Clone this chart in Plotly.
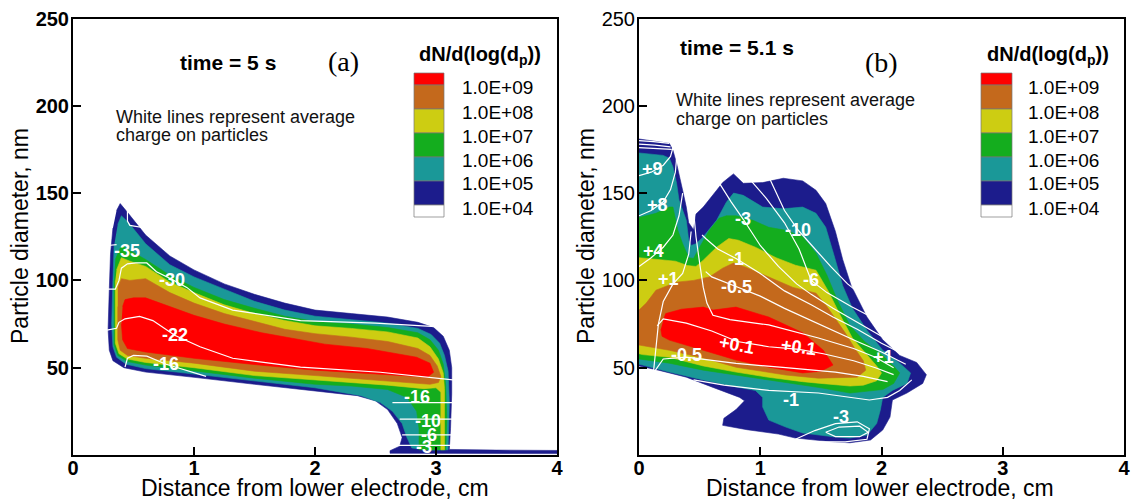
import plotly.graph_objects as go

FIG_W, FIG_H = 1132, 501
FONT = "Liberation Sans"
SERIF = "Liberation Serif"

# ---------------- legend levels ----------------
LEVEL_LABELS = ["1.0E+09", "1.0E+08", "1.0E+07", "1.0E+06", "1.0E+05", "1.0E+04"]
# legend boxes top -> bottom : >1e9, 1e8-1e9, 1e7-1e8, 1e6-1e7, 1e5-1e6, 1e4-1e5, <1e4
BAND_COLORS = ["#ff0000", "#c4691c", "#cdcd12", "#14ad1e", "#1a9898", "#1c1c8c", "#ffffff"]

# ---------------- panel (a): time = 5 s ----------------
A_NAVY_X = [0.36, 0.39, 0.45, 0.60, 0.80, 1.00, 1.25, 1.50, 1.75, 2.00, 2.30, 2.60, 2.85, 2.98, 3.06, 3.11, 3.13, 3.13, 3.12, 3.11, 3.50, 4.00, 4.00, 3.00, 2.62, 2.62, 2.70, 2.72, 2.68, 2.60, 2.50, 2.35, 2.00, 1.50, 1.00, 0.60, 0.42, 0.33, 0.30, 0.29, 0.30, 0.31, 0.33]
A_NAVY_Y = [140, 144, 139, 126, 114, 106, 98, 92, 87, 83, 81, 79, 76, 73, 68, 60, 50, 35, 15, 3.2, 2.8, 2.6, 0.8, 0.8, 1.0, 2.5, 5, 10, 18, 26, 31, 34, 36.5, 40.5, 44.5, 47.5, 50, 54, 60, 72, 95, 115, 130]
A_TEAL_X = [0.37, 0.40, 0.46, 0.60, 0.80, 1.00, 1.25, 1.50, 1.75, 2.00, 2.30, 2.60, 2.85, 2.96, 3.03, 3.07, 3.10, 3.11, 3.10, 2.95, 2.80, 2.76, 2.72, 2.64, 2.54, 2.38, 2.00, 1.50, 1.00, 0.60, 0.44, 0.36, 0.33, 0.32, 0.33, 0.34]
A_TEAL_Y = [132, 137, 133, 121, 109, 102, 95, 88, 83, 79.5, 77.5, 75.5, 72.5, 69, 64, 57, 48, 30, 3, 2.8, 4, 10, 18, 25, 30, 34, 38.5, 42.5, 46.5, 49.5, 52, 56, 62, 75, 100, 120]
A_GREEN_X = [0.35, 0.40, 0.47, 0.60, 0.80, 1.00, 1.25, 1.50, 1.75, 2.00, 2.30, 2.60, 2.85, 2.95, 3.02, 3.06, 3.08, 3.09, 3.08, 2.86, 2.86, 2.84, 2.76, 2.60, 2.30, 2.00, 1.50, 1.00, 0.60, 0.45, 0.37, 0.34, 0.34, 0.34]
A_GREEN_Y = [112, 120, 117, 112, 103, 96, 89, 84, 79.5, 76.5, 75, 73, 70, 66, 60, 52, 40, 20, 3, 3, 15, 25, 33, 37.5, 39.5, 40.5, 44, 48, 51.5, 53.5, 57, 63, 80, 100]
A_YELLOW_X = [0.36, 0.40, 0.47, 0.60, 0.80, 1.00, 1.25, 1.50, 1.75, 2.00, 2.30, 2.60, 2.85, 2.95, 3.02, 3.06, 3.07, 3.07, 3.04, 3.04, 3.00, 2.90, 2.60, 2.30, 2.00, 1.50, 1.00, 0.60, 0.45, 0.38, 0.35, 0.35, 0.35]
A_YELLOW_Y = [106, 113, 111, 108, 99, 93, 86, 81, 77, 74, 72.5, 70.5, 67, 62, 55, 47, 38, 3, 3, 36, 38.5, 38, 40, 41.5, 43, 45.5, 50, 53, 55, 58, 64, 80, 100]
A_ORANGE_X = [0.37, 0.40, 0.47, 0.60, 0.80, 1.00, 1.25, 1.50, 1.75, 2.00, 2.30, 2.60, 2.85, 2.95, 3.01, 3.04, 3.02, 2.95, 2.60, 2.30, 2.00, 1.50, 1.00, 0.60, 0.45, 0.39, 0.37, 0.37]
A_ORANGE_Y = [96, 101, 100, 101, 93, 87, 81, 76.5, 72, 69.5, 67.5, 65, 61, 57, 51, 45, 41.5, 40.5, 42.5, 44, 45.5, 48, 52.6, 55.4, 57, 60, 66, 85]
A_RED_X = [0.41, 0.43, 0.50, 0.60, 0.80, 1.00, 1.25, 1.56, 1.88, 2.08, 2.43, 2.84, 2.95, 2.98, 2.93, 2.60, 2.00, 1.56, 1.00, 0.60, 0.45, 0.41, 0.40]
A_RED_Y = [85, 89, 90, 90, 85, 80, 75, 70, 66, 63.5, 61, 56, 52.6, 47.4, 44.6, 46, 48.6, 51.4, 55.4, 59, 61, 66, 75]

# average-charge lines (a)
A_LINE_X = [
    [0.29, 0.36],
    [0.45, 0.45, 0.47, 0.52, 0.60, 0.70],
    [0.28, 0.35, 0.38, 0.40, 0.45, 0.52, 0.61, 0.69, 0.82, 0.94, 1.05, 1.32, 1.88, 2.50, 3.14],
    [0.28, 0.36, 0.38, 0.43, 0.55, 0.66, 0.84, 1.05, 1.32, 1.88, 2.54, 3.14],
    [0.43, 0.45, 0.50, 0.61, 0.77, 0.94, 1.10],
    [2.64, 3.14],
    [2.70, 3.14],
    [2.72, 3.14],
    [2.66, 3.14],
]
A_LINE_Y = [
    [120, 120.5],
    [143, 134, 131.5, 131, 130, 126],
    [95, 95, 100, 107, 109.5, 110, 110, 105, 100.5, 96, 90, 83, 77, 75.5, 73],
    [71.5, 72.6, 76, 78, 79.4, 77, 68.6, 62, 55.4, 50.3, 47.4, 43],
    [50.3, 55.4, 57, 56.6, 52, 48.6, 45],
    [30, 30],
    [20.5, 20.5],
    [11.5, 11.5],
    [5.5, 5.5],
]
A_LABEL_TEXT = ["-35", "-30", "-22", "-16", "-16", "-10", "-6", "-3"]
A_LABEL_X = [0.45, 0.82, 0.84, 0.77, 2.84, 2.93, 2.94, 2.90]
A_LABEL_Y = [117, 100.5, 68.6, 52, 33, 19.5, 11.4, 4.5]

# ---------------- panel (b): time = 5.1 s ----------------
B_NAVY_X = [0, 0.25, 0.28, 0.31, 0.36, 0.39, 0.41, 0.45, 0.47, 0.53, 0.64, 0.69, 0.76, 0.78, 0.86, 1.02, 1.19, 1.35, 1.46, 1.54, 1.62, 1.68, 1.75, 1.88, 2.01, 2.15, 2.29, 2.37, 2.34, 2.21, 2.09, 2.07, 2.01, 1.91, 1.74, 1.62, 1.29, 1.15, 0.89, 0.69, 0.70, 0.80, 0.87, 0.83, 0.60, 0.39, 0.16, 0.03, 0]
B_NAVY_Y = [181, 178.5, 174.5, 167, 151.6, 142, 133, 129, 138, 142, 151.6, 156, 160, 161, 155.6, 156, 158.5, 157, 151.6, 144, 128, 112, 97, 79, 66, 57, 53, 46, 41, 35.5, 31.5, 21.7, 14.3, 8.6, 7, 7.4, 9.7, 12, 14.5, 17, 21, 26, 31, 33, 39, 44.6, 48.6, 50.3, 51]
B_TEAL_X = [0, 0.20, 0.25, 0.28, 0.31, 0.33, 0.39, 0.41, 0.43, 0.47, 0.53, 0.64, 0.72, 0.78, 0.86, 1.02, 1.19, 1.35, 1.46, 1.54, 1.61, 1.68, 1.76, 1.88, 2.01, 2.15, 2.24, 2.21, 2.09, 2.01, 1.99, 1.96, 1.88, 1.74, 1.62, 1.35, 1.21, 1.07, 1.02, 1.02, 0.96, 0.80, 0.53, 0.25, 0.03, 0]
B_TEAL_Y = [173, 171.6, 170, 165, 155.6, 146, 134.4, 123, 120, 121, 125, 134.4, 144.7, 150, 148.7, 142, 141, 142, 138.4, 130.4, 114, 97, 84, 71.5, 60, 52.6, 47, 41, 37, 33, 25.7, 18, 11.4, 9.7, 10.3, 12.6, 16, 20, 27.5, 33, 37, 39, 43, 47.5, 51.5, 52]
B_GREEN_X = [0, 0.14, 0.25, 0.28, 0.32, 0.36, 0.41, 0.45, 0.50, 0.58, 0.66, 0.72, 0.80, 0.94, 1.07, 1.21, 1.35, 1.46, 1.55, 1.64, 1.74, 1.86, 2.01, 2.10, 2.15, 2.10, 2.01, 1.74, 1.50, 1.35, 1.07, 0.80, 0.53, 0.25, 0.03, 0]
B_GREEN_Y = [136, 138.4, 142, 142, 128.7, 121, 113, 112.6, 119, 128.7, 135.6, 137, 137, 134.4, 130.4, 128.7, 125, 115.6, 103, 88, 74, 65, 57, 51, 47, 41, 37.5, 35.5, 38.5, 40, 43, 45.8, 48.6, 52.6, 54.4, 55]
B_YELLOW_X = [0, 0.14, 0.30, 0.40, 0.47, 0.53, 0.64, 0.74, 0.82, 0.96, 1.13, 1.29, 1.46, 1.56, 1.66, 1.76, 1.87, 1.96, 2.00, 1.96, 1.85, 1.74, 1.50, 1.35, 1.07, 0.80, 0.53, 0.25, 0.03, 0]
B_YELLOW_Y = [113, 112, 111, 108.5, 108, 111.6, 119, 124, 123, 119, 113, 108.7, 105.8, 94, 80, 67, 58, 51, 47, 42.5, 40, 39.5, 41, 42, 44.5, 47.5, 51, 56, 57.5, 58]
B_ORANGE_X = [0, 0.06, 0.14, 0.31, 0.45, 0.58, 0.69, 0.78, 0.88, 1.07, 1.27, 1.46, 1.55, 1.62, 1.70, 1.78, 1.85, 1.87, 1.80, 1.48, 1.21, 0.80, 0.53, 0.25, 0.03, 0]
B_ORANGE_Y = [83, 87, 94.4, 99, 100, 102, 107, 110, 107.6, 102, 96, 92.7, 85, 78, 70, 61, 54, 48.6, 44.6, 44, 45.8, 50.3, 55.5, 60, 63, 63]
B_RED_X = [0.20, 0.22, 0.35, 0.53, 0.61, 0.80, 1.07, 1.35, 1.52, 1.60, 1.50, 1.35, 1.07, 0.80, 0.53, 0.25, 0.19, 0.18]
B_RED_Y = [77, 81, 83.5, 84.7, 83, 84.7, 79, 70, 60, 51.5, 48, 47, 50.3, 54.4, 60, 65.8, 68, 72]

# average-charge lines (b)
B_LINE_X = [
    [0, 0.12, 0.25],
    [0, 0.13, 0.26],
    [0, 0.14, 0.27],
    [0, 0.10, 0.20, 0.26, 0.28],
    [0, 0.10, 0.20, 0.26, 0.30, 0.31],
    [0, 0.10, 0.20, 0.28, 0.33, 0.36],
    [0.12, 0.14, 0.16, 0.20, 0.28, 0.36, 0.41, 0.43],
    [0.45, 0.47, 0.50, 0.53, 0.56, 0.61, 0.75, 1.07, 1.48, 1.77, 1.95, 2.10],
    [0.15, 0.20, 0.39, 0.60, 0.81, 1.07, 1.32, 1.52, 1.77, 1.95, 2.10],
    [0.12, 0.20, 0.39, 0.60, 0.80, 1.21, 1.62, 1.85, 2.05],
    [0.45, 0.70, 1.07, 1.48, 1.90, 2.05, 2.15, 2.25],
    [1.29, 1.45, 1.62, 1.80, 1.90, 1.88, 1.70, 1.45, 1.29],
    [1.54, 1.65, 1.82, 1.89, 1.82, 1.62, 1.54],
    [0.55, 0.60, 0.80, 1.00, 1.20, 1.42, 1.60, 1.80, 2.00, 2.20],
    [0.52, 0.55, 0.65, 0.80, 1.00, 1.20, 1.42, 1.60, 1.80, 2.00, 2.20],
    [0.66, 0.76, 0.86, 1.00, 1.15, 1.30, 1.42, 1.60, 1.80, 2.00, 2.20],
    [0.90, 1.05, 1.20, 1.32, 1.42, 1.55, 1.75, 2.00, 2.25],
    [1.08, 1.20, 1.31, 1.45, 1.58, 1.72, 1.90, 2.05, 2.25],
]
B_LINE_Y = [
    [180, 179.5, 178.5],
    [178, 177.5, 176.5],
    [176, 175.5, 175],
    [160, 162, 166, 171, 176],
    [137, 140, 145, 152, 162, 170],
    [108, 113, 119, 126, 137, 150],
    [48, 62, 75, 88, 98, 104, 115, 128],
    [140, 125, 110, 96, 87, 80, 77.5, 74.5, 67, 61, 56, 50],
    [74, 78, 75.5, 71, 65, 62, 60.5, 58, 54, 50, 46],
    [47, 55, 56, 54, 52.5, 50, 47.5, 45, 42],
    [43, 40, 37, 35.5, 31.5, 33, 37, 43],
    [9, 14, 18, 19, 15, 9, 7.5, 7.5, 9],
    [13, 16, 16.5, 13, 10.5, 10.5, 13],
    [105, 102, 96.5, 91, 84, 77, 71, 65, 59, 52],
    [126, 124, 118, 112.5, 104, 94, 86, 79, 72, 64, 57],
    [156, 145, 135, 120, 108, 98, 92, 84, 76, 68, 60],
    [159, 147, 133, 118, 100, 93, 85, 76, 66],
    [158, 140, 129, 118, 108, 98, 88, 80, 70],
]
B_LABEL_TEXT = ["+9", "+8", "+4", "+1", "-3", "-10", "-1", "-6", "-0.5", "+0.1", "+0.1", "-0.5", "-1", "-3", "+1"]
B_LABEL_X = [0.11, 0.15, 0.12, 0.24, 0.86, 1.31, 0.80, 1.42, 0.80, 0.81, 1.32, 0.39, 1.25, 1.67, 2.02]
B_LABEL_Y = [164, 143, 117, 101, 135, 129, 112.5, 100, 96.5, 63, 62, 57, 31.5, 21.5, 56]
B_LABEL_ANGLE = [0, 0, 0, 0, 0, 0, 0, 0, 0, 10, 8, 0, 0, 0, 0]

X_TICKS = [0, 1, 2, 3, 4]
Y_TICKS = [50, 100, 150, 200, 250]

# ---------------------------------------------------------------
fig = go.Figure()


def add_bands(bands, xa, ya):
    # bands ordered outer (lowest level) -> inner (highest level)
    for (bx, by), color in bands:
        fig.add_trace(go.Scatter(
            x=bx, y=by, mode="lines", fill="toself", fillcolor=color,
            line=dict(color=color, width=0.6), hoverinfo="skip",
            showlegend=False, xaxis=xa, yaxis=ya))


def add_lines(lx, ly, xa, ya):
    for x, y in zip(lx, ly):
        fig.add_trace(go.Scatter(
            x=x, y=y, mode="lines", line=dict(color="white", width=1.2),
            hoverinfo="skip", showlegend=False, xaxis=xa, yaxis=ya))


def add_labels(texts, xs, ys, xref, yref, angles=None):
    for i, (t, x, y) in enumerate(zip(texts, xs, ys)):
        fig.add_annotation(
            x=x, y=y, xref=xref, yref=yref, text=t, showarrow=False,
            textangle=(angles[i] if angles else 0),
            font=dict(family=FONT, size=18, color="white", weight="bold"))


band_colors_outer_in = BAND_COLORS[5::-1]  # navy, teal, green, yellow, orange, red
add_bands(list(zip([(A_NAVY_X, A_NAVY_Y), (A_TEAL_X, A_TEAL_Y), (A_GREEN_X, A_GREEN_Y),
                    (A_YELLOW_X, A_YELLOW_Y), (A_ORANGE_X, A_ORANGE_Y), (A_RED_X, A_RED_Y)],
                   band_colors_outer_in)), "x", "y")
add_lines(A_LINE_X, A_LINE_Y, "x", "y")
add_labels(A_LABEL_TEXT, A_LABEL_X, A_LABEL_Y, "x", "y")

add_bands(list(zip([(B_NAVY_X, B_NAVY_Y), (B_TEAL_X, B_TEAL_Y), (B_GREEN_X, B_GREEN_Y),
                    (B_YELLOW_X, B_YELLOW_Y), (B_ORANGE_X, B_ORANGE_Y), (B_RED_X, B_RED_Y)],
                   band_colors_outer_in)), "x2", "y2")
add_lines(B_LINE_X, B_LINE_Y, "x2", "y2")
add_labels(B_LABEL_TEXT, B_LABEL_X, B_LABEL_Y, "x2", "y2", B_LABEL_ANGLE)


def px(x):
    return x / FIG_W


def py(y):
    return 1 - y / FIG_H


# legends (colour boxes + labels)
BOX_EDGES = [73, 85, 109, 133, 157, 181, 205, 217]
for (bx0, bx1, lab_x, title_x) in [(414, 444, 460, 417), (981, 1012, 1026, 985)]:
    for i, col in enumerate(BAND_COLORS):
        fig.add_shape(type="rect", xref="paper", yref="paper",
                      x0=px(bx0), x1=px(bx1), y0=py(BOX_EDGES[i + 1]), y1=py(BOX_EDGES[i]),
                      fillcolor=col, line=dict(color="#777777", width=0.7), layer="above")
    for i, lab in enumerate(LEVEL_LABELS):
        fig.add_annotation(xref="paper", yref="paper", x=px(lab_x), y=py(BOX_EDGES[i + 1] + 3),
                           xanchor="left", yanchor="middle", text=lab, showarrow=False,
                           font=dict(family=FONT, size=19, color="black"))
    fig.add_annotation(xref="paper", yref="paper", x=px(title_x), y=py(56),
                       xanchor="left", yanchor="middle", showarrow=False,
                       text="dN/d(log(d<sub>p</sub>))",
                       font=dict(family=FONT, size=20, color="black", weight="bold"))

# panel texts
TEXTS = [
    (228, 63, "time = 5 s", dict(family=FONT, size=21, color="black", weight="bold"), "center"),
    (737, 48, "time = 5.1 s", dict(family=FONT, size=21, color="black", weight="bold"), "center"),
    (343, 62, "(a)", dict(family=SERIF, size=28, color="black"), "center"),
    (881, 63, "(b)", dict(family=SERIF, size=28, color="black"), "center"),
]
for x, y, t, f, xa in TEXTS:
    fig.add_annotation(xref="paper", yref="paper", x=px(x), y=py(y), text=t, showarrow=False,
                       xanchor=xa, yanchor="middle", font=f)
for x0, ys in [(114, (117, 135)), (674, (100, 119))]:
    for yy, t in zip(ys, ["White lines represent average", "charge on particles"]):
        fig.add_annotation(xref="paper", yref="paper", x=px(x0), y=py(yy), text=t,
                           showarrow=False, xanchor="left", yanchor="middle",
                           font=dict(family=FONT, size=18, color="#111111"))

# axis titles
for x, y in [(315, 488), (880, 488)]:
    fig.add_annotation(xref="paper", yref="paper", x=px(x), y=py(y),
                       text="Distance from lower electrode, cm", showarrow=False,
                       xanchor="center", yanchor="middle",
                       font=dict(family=FONT, size=23, color="black"))
for x, y in [(20, 236), (586, 236)]:
    fig.add_annotation(xref="paper", yref="paper", x=px(x), y=py(y),
                       text="Particle diameter, nm", showarrow=False, textangle=-90,
                       xanchor="center", yanchor="middle",
                       font=dict(family=FONT, size=23, color="black"))

axis_common = dict(showgrid=False, zeroline=False, showline=True, linecolor="black",
                   linewidth=2, mirror=True, ticks="inside", ticklen=8, tickwidth=2,
                   tickcolor="black", automargin=False)
bold_tick = dict(family=FONT, size=20, color="black", weight="bold")
reg_tick = dict(family=FONT, size=20, color="black")
ydom = [(FIG_H - 455) / FIG_H, (FIG_H - 18.5) / FIG_H]

fig.update_layout(
    width=FIG_W, height=FIG_H,
    margin=dict(l=0, r=0, t=0, b=0, pad=0, autoexpand=False),
    paper_bgcolor="white", plot_bgcolor="white",
    showlegend=False,
    xaxis=dict(domain=[73 / FIG_W, 557 / FIG_W], range=[0, 4], tickvals=X_TICKS,
               tickfont=bold_tick, anchor="y", ticklabelstandoff=-6, **axis_common),
    yaxis=dict(domain=ydom, range=[0, 250], tickvals=Y_TICKS, tickfont=bold_tick,
               anchor="x", ticklabelstandoff=-2, **axis_common),
    xaxis2=dict(domain=[639 / FIG_W, 1124 / FIG_W], range=[0, 4], tickvals=X_TICKS,
                tickfont=bold_tick, anchor="y2", ticklabelstandoff=-6, **axis_common),
    yaxis2=dict(domain=ydom, range=[0, 250], tickvals=Y_TICKS, tickfont=reg_tick,
                anchor="x2", ticklabelstandoff=-2, **axis_common),
)

fig.write_html("out.html")
